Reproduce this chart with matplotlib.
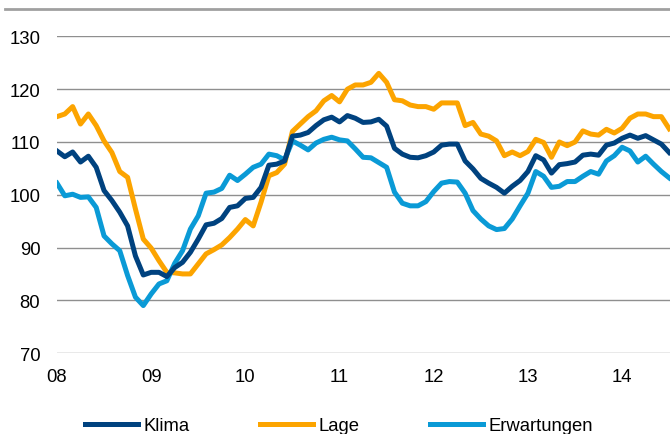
import numpy as np
import matplotlib
matplotlib.use("Agg")
from matplotlib import pyplot as plt
from matplotlib.lines import Line2D

plt.rcParams['font.family'] = ['Liberation Sans', 'DejaVu Sans']

# monthly values, Jan 2008 .. Jul 2014
klima = [108.3, 107.2, 108.1, 106.2, 107.3, 105.2, 100.8, 98.9, 96.7, 94.1, 88.4, 84.8,
         85.3, 85.3, 84.5, 86.2, 87.2, 89.1, 91.6, 94.3, 94.6, 95.5, 97.6, 97.9,
         99.3, 99.5, 101.4, 105.6, 105.8, 106.4, 111.1, 111.3, 111.8, 113.1, 114.2, 114.7,
         113.8, 115.0, 114.5, 113.7, 113.8, 114.3, 113.0, 108.8, 107.7, 107.1, 107.0, 107.4,
         108.1, 109.4, 109.6, 109.6, 106.4, 104.9, 103.1, 102.2, 101.4, 100.3, 101.6, 102.7,
         104.4, 107.4, 106.6, 104.1, 105.7, 105.9, 106.2, 107.5, 107.7, 107.5, 109.4, 109.8,
         110.7, 111.3, 110.7, 111.2, 110.4, 109.6, 108.0]
lage = [114.8, 115.3, 116.7, 113.4, 115.3, 113.1, 110.2, 108.0, 104.4, 103.3, 97.3, 91.6,
        89.9, 87.5, 85.3, 85.2, 85.0, 85.0, 86.9, 88.8, 89.6, 90.5, 91.9, 93.5,
        95.3, 94.1, 98.6, 103.6, 104.2, 105.8, 112.0, 113.4, 114.8, 115.9, 117.8, 118.8,
        117.6, 120.0, 120.8, 120.8, 121.3, 123.0, 121.3, 118.0, 117.8, 117.0, 116.7, 116.7,
        116.2, 117.4, 117.4, 117.4, 113.1, 113.7, 111.5, 111.1, 110.2, 107.4, 108.1, 107.4,
        108.2, 110.5, 109.9, 107.1, 110.0, 109.3, 110.0, 112.1, 111.5, 111.3, 112.4, 111.7,
        112.6, 114.5, 115.3, 115.3, 114.8, 114.8, 112.5]
erwartungen = [102.2, 99.8, 100.1, 99.5, 99.6, 97.6, 92.2, 90.7, 89.4, 84.7, 80.6, 79.0,
               81.2, 83.1, 83.7, 87.0, 89.4, 93.5, 96.0, 100.3, 100.5, 101.2, 103.7, 102.7,
               103.9, 105.2, 105.8, 107.7, 107.4, 106.6, 110.2, 109.4, 108.5, 109.8, 110.5, 110.9,
               110.4, 110.2, 108.7, 107.1, 107.0, 106.1, 105.2, 100.5, 98.4, 97.9, 97.9, 98.7,
               100.6, 102.2, 102.5, 102.4, 100.3, 97.0, 95.4, 94.1, 93.4, 93.6, 95.4, 97.9,
               100.3, 104.4, 103.5, 101.4, 101.6, 102.5, 102.5, 103.5, 104.4, 103.9, 106.4, 107.4,
               109.0, 108.3, 106.2, 107.3, 105.8, 104.4, 103.2]
year_labels = ['08', '09', '10', '11', '12', '13', '14']

months = np.arange(len(klima))

fig = plt.figure(figsize=(6.7, 4.35), dpi=100)
ax = fig.add_axes([0.085, 0.186, 0.915, 0.728])

for y in range(70, 131, 10):
    ax.axhline(y, color='#8f8f8f', lw=1.0, zorder=1)

ax.plot(months, klima, color='#00427f', lw=3.6, solid_joinstyle='round', zorder=3)
ax.plot(months, lage, color='#fca400', lw=3.6, solid_joinstyle='round', zorder=2)
ax.plot(months, erwartungen, color='#0a9ad6', lw=3.6, solid_joinstyle='round', zorder=2.5)

ax.set_xlim(0, 78.1)
ax.set_ylim(70, 130)
ax.set_yticks(range(70, 131, 10))
ax.set_xticks(np.arange(len(year_labels)) * 12)
ax.set_xticklabels(year_labels)
ax.tick_params(length=0, labelsize=13.3, colors='black')
ax.tick_params(axis='y', pad=12)
ax.tick_params(axis='x', pad=11)
for s in ax.spines.values():
    s.set_visible(False)

# grey rule at the top
fig.add_artist(Line2D([0.008, 1.0], [0.976, 0.976], color='#a0a0a0', lw=2))

handles = [Line2D([], [], color='#00427f', lw=3.6),
           Line2D([], [], color='#fca400', lw=3.6),
           Line2D([], [], color='#0a9ad6', lw=3.6)]
fig.legend(handles, ['Klima', 'Lage', 'Erwartungen'], ncol=3, frameon=False,
           loc='lower center', bbox_to_anchor=(0.506, 0.0), fontsize=13.3,
           handlelength=2.87, handletextpad=0.27, columnspacing=3.85,
           borderpad=0.0, borderaxespad=0.0)

fig.savefig('out.png', dpi=100)
